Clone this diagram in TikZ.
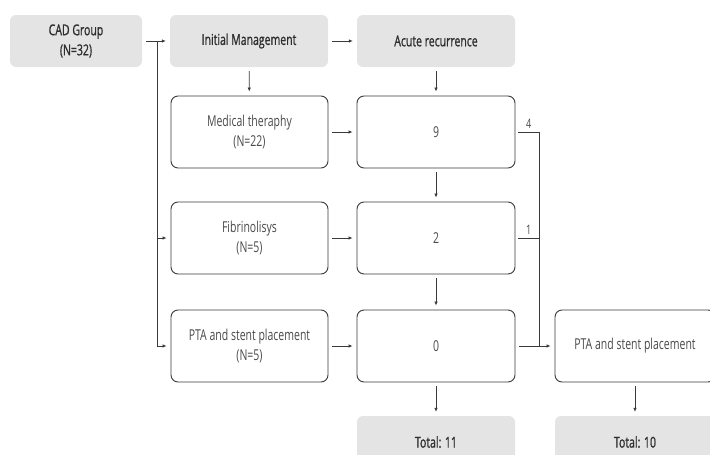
\documentclass[tikz,border=0pt]{standalone}
\usepackage{fontspec}
\setmainfont{Open Sans}[FakeStretch=0.7]
\newfontfamily\headfont{Open Sans}[FakeStretch=0.7, FakeBold=1]
\usetikzlibrary{arrows.meta}

\definecolor{boxgray}{HTML}{E4E4E4}
\definecolor{linegray}{HTML}{3A3A3A}
\definecolor{textgray}{HTML}{2E2E2E}
\definecolor{softgray}{HTML}{4A4A4A}

\begin{document}
\begin{tikzpicture}[x=1pt, y=-1pt,
    every node/.style={text=textgray, font=\fontsize{15}{20}\selectfont},
    head/.style={fill=boxgray, rounded corners=6pt, minimum width=158pt,
      minimum height=52pt, align=center, inner sep=0pt,
      font=\headfont\fontsize{15}{20}\selectfont},
    stage/.style={draw=linegray, line width=0.9pt, fill=white, rounded corners=7pt,
      text=softgray, minimum width=157pt, minimum height=72pt, align=center,
      inner sep=0pt},
    flow/.style={draw=linegray, line width=0.7pt,
      -{Latex[length=4pt,width=3.5pt]}, shorten >=4pt, shorten <=4pt},
    link/.style={draw=linegray, line width=0.7pt}]
  % canvas
  \useasboundingbox (0,0) rectangle (710,455);
  \clip (0,0) rectangle (710,455);

  % top row
  \node[head, minimum width=132pt] (cad) at (76,41) {CAD Group\\(N=32)};
  \node[head] (init) at (249,41) {Initial Management};
  \node[head] (acute) at (436,41) {Acute recurrence};

  % treatment boxes
  \node[stage] (med) at (249.5,132) {Medical theraphy\\(N=22)};
  \node[stage] (fib) at (249.5,238) {Fibrinolisys\\(N=5)};
  \node[stage] (pta) at (249.5,346) {PTA and stent placement\\(N=5)};

  % recurrence counts
  \node[stage, minimum width=158pt] (nine) at (436,132) {9};
  \node[stage, minimum width=158pt] (two) at (436,238) {2};
  \node[stage, minimum width=158pt] (zero) at (436,346) {0};

  % second intervention and totals
  \node[stage, minimum width=160pt] (redo) at (635,346) {PTA and stent placement};
  \node[head] (tot1) at (436,442) {Total: 11};
  \node[head, minimum width=160pt] (tot2) at (635,442) {Total: 10};

  % split and join points
  \coordinate (split) at (157,41);
  \coordinate (join) at (539,346);

  % arrows
  \draw[flow] (cad) -- (init);
  \draw[flow] (init) -- (acute);
  \draw[link] (split) -- (split |- pta.west);
  \draw[flow, shorten <=0pt] (split |- fib.west) -- (fib.west);
  \draw[flow, shorten <=0pt] (split |- pta.west) -- (pta.west);
  \draw[flow] (init) -- (med);
  \draw[flow] (acute) -- (nine);
  \draw[flow] (med) -- (nine);
  \draw[flow] (fib) -- (two);
  \draw[flow] (pta) -- (zero);
  \draw[flow] (nine) -- (two);
  \draw[flow] (two) -- (zero);
  \draw[flow] (zero) -- (tot1);
  \draw[flow] (redo) -- (tot2);
  \draw[flow] (zero) -- (redo);
  \draw[link] ([xshift=3pt]nine.east) -- (nine.east -| join)
    node[pos=0.5, above, text=softgray, font=\fontsize{13}{15}\selectfont] {4} -- (join);
  \draw[link] ([xshift=3pt]two.east) -- (two.east -| join)
    node[pos=0.5, above, text=softgray, font=\fontsize{13}{15}\selectfont] {1};
\end{tikzpicture}
\end{document}
